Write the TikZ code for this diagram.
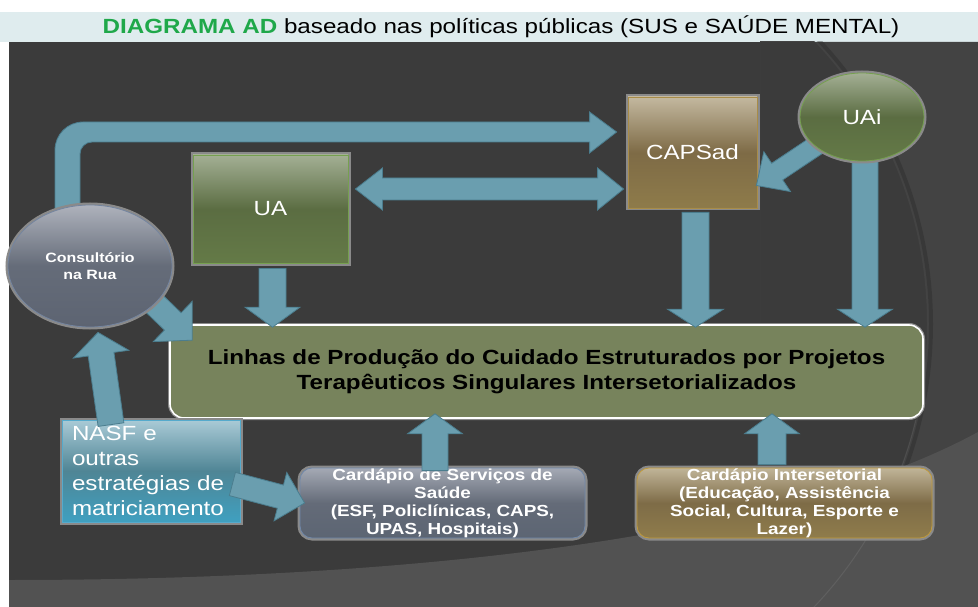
\documentclass[tikz,border=0pt]{standalone}
\usepackage{fontspec}
\setmainfont{Liberation Sans}[FakeStretch=1.18]
\usetikzlibrary{calc,shapes.geometric}
\pgfdeclarelayer{bg}\pgfdeclarelayer{fg}
\pgfsetlayers{bg,main,fg}
\definecolor{bgdark}{HTML}{3B3B3B}
\definecolor{bgright}{HTML}{434343}
\definecolor{bglight}{HTML}{525252}
\definecolor{bandc}{HTML}{DFECEE}
\definecolor{titlegreen}{HTML}{1FA84A}
\definecolor{arrfill}{HTML}{6A9EAF}
\definecolor{arrline}{HTML}{4B7D8E}
\definecolor{glowc}{HTML}{8A8A8A}
\definecolor{uaT}{HTML}{A3AF94}\definecolor{uaM}{HTML}{5B6D42}\definecolor{uaB}{HTML}{647A47}\definecolor{uaE}{HTML}{76A050}
\definecolor{cpT}{HTML}{C3B89F}\definecolor{cpM}{HTML}{7E6B46}\definecolor{cpB}{HTML}{8E7B4A}\definecolor{cpE}{HTML}{A88C48}
\definecolor{coT}{HTML}{AEB2BC}\definecolor{coM}{HTML}{656C79}\definecolor{coB}{HTML}{5D6472}\definecolor{coE}{HTML}{7485A0}
\definecolor{naT}{HTML}{A9CAD6}\definecolor{naM}{HTML}{4F8595}\definecolor{naB}{HTML}{3FA0C0}\definecolor{naE}{HTML}{55AACC}
\definecolor{c1T}{HTML}{A4A9B4}\definecolor{c1M}{HTML}{646B78}\definecolor{c1B}{HTML}{5C6573}\definecolor{c1E}{HTML}{7088AA}
\definecolor{c2T}{HTML}{C0B498}\definecolor{c2M}{HTML}{7E6C47}\definecolor{c2B}{HTML}{8F7C4B}\definecolor{c2E}{HTML}{C09A3A}
\definecolor{mainc}{HTML}{77835C}
\tikzset{
  nbox/.style={rectangle, inner sep=0pt, text=white, line width=0.8pt,
    preaction={draw=glowc, line width=5pt}},
  nell/.style={ellipse, inner sep=0pt, text=white, line width=0.8pt,
    preaction={draw=glowc, line width=5pt}},
  arr/.style={fill=arrfill, draw=arrline, line width=0.8pt, line join=miter},
  bigtxt/.style={font=\fontsize{20.5}{25}\selectfont},
  cardtxt/.style={font=\fontsize{16}{18}\selectfont\bfseries, align=center},
}
\newcommand\barrow[5]{%
  \coordinate (ba1) at #1; \coordinate (ba2) at #2;
  \coordinate (bc) at ($(ba2)!#5!(ba1)$);
  \draw[arr] ($(ba1)!#3!90:(ba2)$) -- ($(bc)!#3!90:(ba2)$) -- ($(bc)!#4!90:(ba2)$)
    -- (ba2) -- ($(bc)!#4!-90:(ba2)$) -- ($(bc)!#3!-90:(ba2)$) -- ($(ba1)!#3!-90:(ba2)$) -- cycle;}
\begin{document}
\begin{tikzpicture}[x=1pt,y=-1pt]
\useasboundingbox (0,0) rectangle (978,607);
% ---------- background ----------
\begin{pgfonlayer}{bg}
\fill[white] (0,0) rectangle (978,607);
\fill[bandc] (0,12) rectangle (978,42);
\fill[bgdark] (9,42) rectangle (978,607);
\begin{scope}
  \clip (760,42) rectangle (978,607);
  \fill[bgright, even odd rule] (760,42) rectangle (978,607) (516,324) circle[radius=411];
  \draw[black!85, opacity=0.35, line width=4pt] (516,324) circle[radius=415];
\end{scope}
\fill[bglight] (9,580) .. controls (400,580) and (780,540) .. (978,432) -- (978,607) -- (9,607) -- cycle;
\begin{scope}
  \clip (800,420) rectangle (978,607);
  \draw[white, opacity=0.08, line width=1pt] (516,324) circle[radius=411];
\end{scope}
\end{pgfonlayer}
% ---------- title ----------
\node[font=\fontsize{20.5}{24}\selectfont, inner sep=0pt] (title) at (501,27)
  {\textcolor{titlegreen}{\bfseries DIAGRAMA AD} baseado nas políticas públicas (SUS e SAÚDE MENTAL)};
% ---------- nodes ----------
\node[draw=white, fill=mainc, line width=1.6pt, rounded corners=14pt,
  minimum width=753, minimum height=93, inner sep=0pt, align=center,
  font=\fontsize{20.5}{25}\selectfont\bfseries,
  preaction={draw=glowc, line width=4pt}] (main) at (546.5,371.5)
  {Linhas de Produção do Cuidado Estruturados por Projetos\\Terapêuticos Singulares Intersetorializados};
\node[nbox, bigtxt, minimum width=155, minimum height=108,
  top color=uaT, bottom color=uaB, middle color=uaM, draw=uaE] (UA) at (270.5,209) {UA};
\node[nbox, bigtxt, minimum width=129, minimum height=111,
  top color=cpT, bottom color=cpB, middle color=cpM, draw=cpE] (CAPSad) at (692.5,152.5) {CAPSad};
\node[nbox, bigtxt, align=left, text width=158pt, inner xsep=10pt, minimum height=102,
  top color=naT, bottom color=naB, middle color=naM, draw=naE] (NASF) at (151,471)
  {NASF e\\outras\\estratégias de\\matriciamento};
\node[nbox, cardtxt, rounded corners=12pt, minimum width=285, minimum height=70,
  top color=c1T, bottom color=c1B, middle color=c1M, draw=c1E] (card1) at (442.5,503)
  {Cardápio de Serviços de\\Saúde\\(ESF, Policlínicas, CAPS,\\UPAS, Hospitais)};
\node[nbox, cardtxt, rounded corners=12pt, minimum width=295, minimum height=70,
  top color=c2T, bottom color=c2B, middle color=c2M, draw=c2E] (card2) at (784.5,503)
  {Cardápio Intersetorial\\(Educação, Assistência\\Social, Cultura, Esporte e\\Lazer)};
\begin{pgfonlayer}{fg}
\node[nell, bigtxt, minimum width=124, minimum height=88,
  top color=uaT, bottom color=uaB, middle color=uaM, draw=uaE] (UAi) at (862,117) {UAi};
\node[nell, minimum width=164, minimum height=122, align=center,
  font=\fontsize{13.5}{16.5}\selectfont\bfseries,
  top color=coT, bottom color=coB, middle color=coM, draw=coE] (cons) at (90,266)
  {Consultório\\na Rua};
\end{pgfonlayer}
% ---------- arrows ----------
% bent arrow Consultorio -> CAPSad
\coordinate (bs) at ($(cons.north)+(-22.5,12)$);
\coordinate (bt) at ($(CAPSad.west)+(-11,-20.5)$);
\coordinate (pA) at ($(bs)+(-12.5,0)$);
\coordinate (pB) at ($(bs |- bt)+(-12.5,-10)$);
\coordinate (pC) at ($(bt)+(-300,-10)$);
\coordinate (pD) at ($(bt)+(-27,-10)$);
\coordinate (pE) at ($(bt)+(-27,-20)$);
\coordinate (pG) at ($(bt)+(-27,21)$);
\coordinate (pH) at ($(bt)+(-27,10)$);
\coordinate (pI) at ($(bt)+(-300,10)$);
\coordinate (pJ) at ($(bs |- bt)+(12.5,10)$);
\coordinate (pK) at ($(bs)+(12.5,-30)$);
\coordinate (pL) at ($(bs)+(12.5,0)$);
\draw[arr] (pA) [rounded corners=28pt] -- (pB) -- (pC) [sharp corners] -- (pD) -- (pE) -- (bt)
  -- (pG) -- (pH) -- (pI) [rounded corners=12pt] -- (pJ) -- (pK) [sharp corners] -- (pL) -- cycle;
% double arrow UA <-> CAPSad
\coordinate (dl) at ($(UA.east)+(7,-20)$);
\coordinate (dr) at ($(CAPSad.west)+(-4,36.5)$);
\draw[arr] (dl) -- ($(dl)+(27,-21)$) -- ($(dl)+(27,-11)$) -- ($(dr)+(-26,-11)$) -- ($(dr)+(-26,-21)$)
  -- (dr) -- ($(dr)+(-26,21)$) -- ($(dr)+(-26,11)$) -- ($(dl)+(27,11)$) -- ($(dl)+(27,21)$) -- cycle;
% vertical arrows into main box
\barrow{($(UA.south)+(2,5)$)}{($(UA.south |- main.north)+(2,3)$)}{13.5pt}{27.5pt}{20pt}
\barrow{($(CAPSad.south)+(3,4)$)}{($(CAPSad.south |- main.north)+(3,3)$)}{13.5pt}{28pt}{18pt}
\barrow{($(UAi.south)+(3,-4)$)}{($(UAi.south |- main.north)+(3,3)$)}{13pt}{27.5pt}{18pt}
% UAi -> CAPSad
\barrow{($(UAi.center)+(-42,26)$)}{($(CAPSad.east)+(-1,33)$)}{10pt}{24pt}{25pt}
% Consultorio -> main
\barrow{($(cons.center)+(45,19)$)}{($(main.north west)+(23,16)$)}{12pt}{28pt}{27pt}
% NASF -> Consultorio
\barrow{($(NASF.north)+(-40,5)$)}{($(cons.south)+(8,5)$)}{13pt}{28pt}{22pt}
% NASF -> card1
\barrow{($(NASF.east)+(-8,13)$)}{($(card1.west)+(5,0)$)}{12pt}{25pt}{25pt}
% cards -> main
\barrow{($(card1.north)+(-7.5,3)$)}{($(card1.north |- main.south)+(-7.5,-5)$)}{13pt}{27.5pt}{20pt}
\barrow{($(card2.north)+(-12.5,-3)$)}{($(card2.north |- main.south)+(-12.5,-5)$)}{14pt}{27.5pt}{20pt}
\end{tikzpicture}
\end{document}
